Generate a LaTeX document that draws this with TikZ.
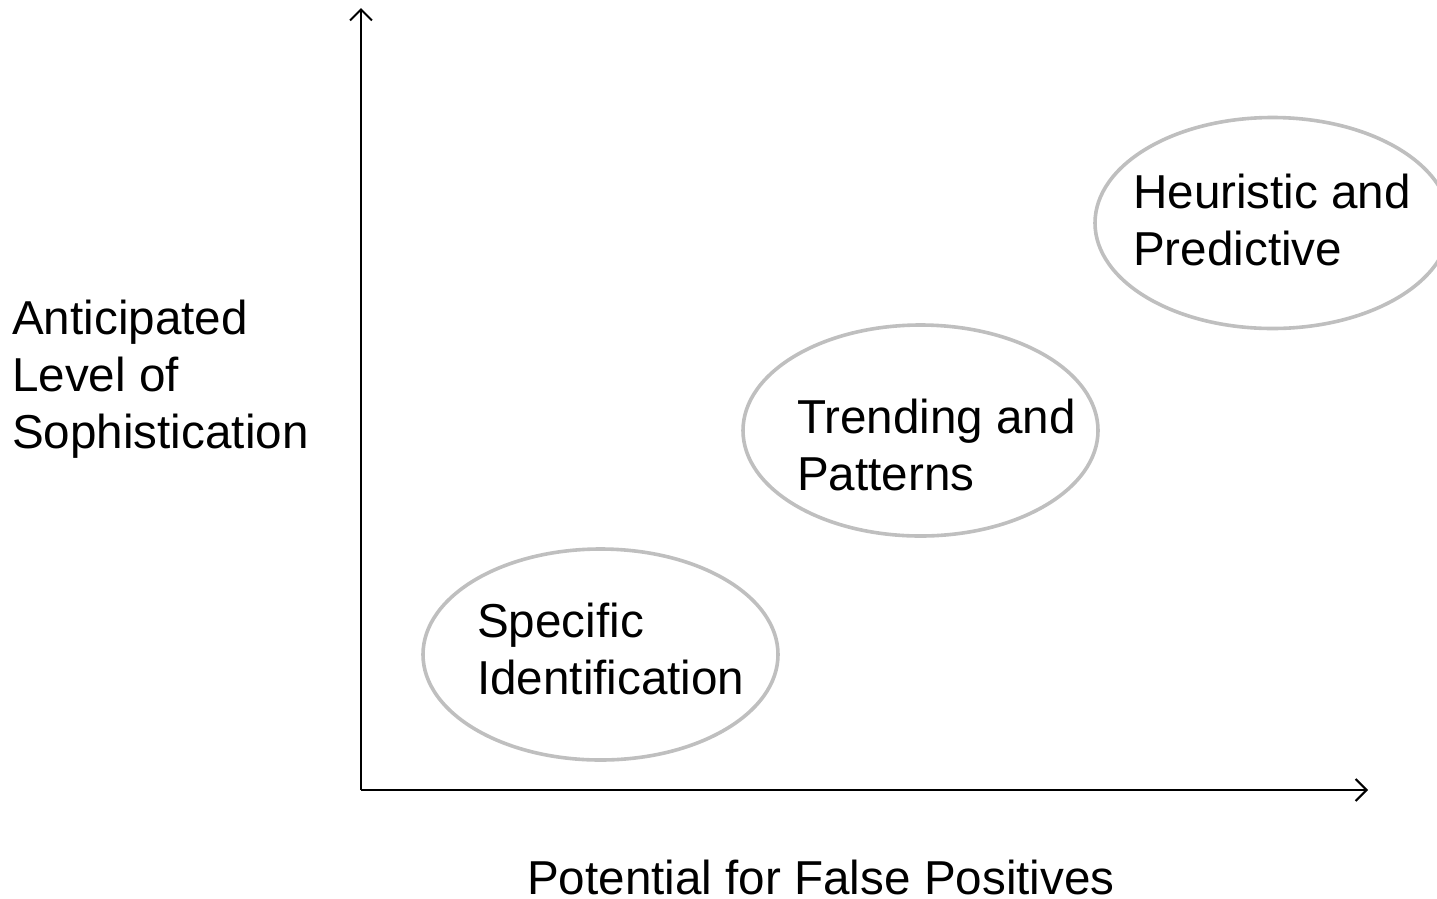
\documentclass[tikz,border=0pt]{standalone}
\usepackage{fontspec}
\setmainfont{Liberation Sans}
\usetikzlibrary{shapes.geometric,arrows.meta}
\definecolor{ringgray}{HTML}{BFBFBF}
\tikzset{
  ring/.style={draw=ringgray, line width=3.6pt, ellipse, minimum width=355pt, minimum height=211pt, inner sep=0pt},
  lbl/.style={anchor=base west, align=left, inner sep=0pt, font=\fontsize{47.6pt}{57pt}\selectfont},
  axis/.style={line width=2pt, -{Straight Barb[length=11pt,width=22pt,line width=2pt]}}
}
\begin{document}
\begin{tikzpicture}[x=1pt,y=-1pt]
\useasboundingbox (0,0) rectangle (1437,898);
\coordinate (o) at (361,790);
\coordinate (ytip) at (361,8);
\coordinate (xtip) at (1368,790);
\draw[axis] (o) -- (ytip);
\draw[axis] (o) -- (xtip);
\node[ring] (e1) at (600.5,654.5) {};
\node[ring] (e2) at (920.5,430.5) {};
\node[ring] (e3) at (1272.5,223) {};
\node[lbl] (t1) at (477,694) {Specific\\Identification};
\node[lbl] (t2) at (797,490) {Trending and\\Patterns};
\node[lbl] (t3) at (1133,265) {Heuristic and\\Predictive};
\node[lbl] (ylab) at (12,448) {Anticipated\\Level of\\Sophistication};
\node[lbl] (xlab) at (527,894) {Potential for False Positives};
\end{tikzpicture}
\end{document}
